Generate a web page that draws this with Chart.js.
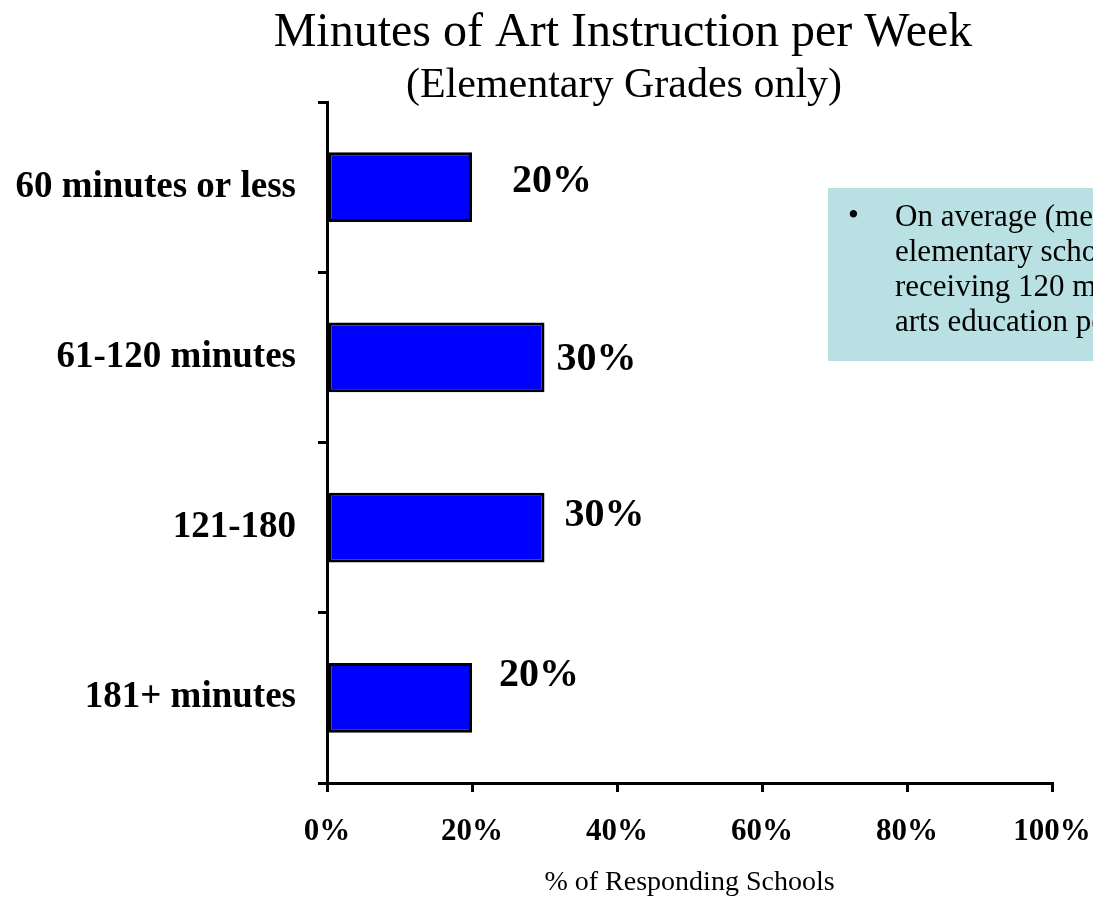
<!DOCTYPE html>
<html>
<head>
<meta charset="utf-8">
<script src="https://cdn.jsdelivr.net/npm/chart.js@4.4.0/dist/chart.umd.min.js"></script>
<style>
  html, body { margin: 0; padding: 0; background: #fff; }
  #wrap { width: 1093px; height: 899px; position: relative; }
</style>
</head>
<body>
<div id="wrap"><canvas id="chart" width="1093" height="899"></canvas></div>
<script>
// data
const categories = ['60 minutes or less', '61-120 minutes', '121-180', '181+ minutes'];
const shares = [20, 30, 30, 20];
const xTicks = [0, 20, 40, 60, 80, 100];
const noteLines = [
  'On average (median),',
  'elementary schools report',
  'receiving 120 minutes of',
  'arts education per week'
];

const serif = "'Liberation Serif', 'Times New Roman', serif";

// titles and the note box are drawn by hand so they can sit where the original has them
const extras = {
  id: 'extras',
  afterDraw(chart) {
    const ctx = chart.ctx;
    ctx.save();
    ctx.fillStyle = '#000';
    ctx.textAlign = 'center';
    ctx.textBaseline = 'middle';
    ctx.font = '48px ' + serif;
    ctx.fillText('Minutes of Art Instruction per Week', 623, 33);
    ctx.font = '42px ' + serif;
    ctx.fillText('(Elementary Grades only)', 624, 86);

    // note box, runs off the right edge like the original
    ctx.fillStyle = '#b9e0e3';
    ctx.fillRect(828, 188, 300, 173);
    ctx.fillStyle = '#000';
    ctx.textAlign = 'left';
    ctx.font = '31px ' + serif;
    ctx.fillText('\u2022', 848, 217);
    noteLines.forEach((t, i) => ctx.fillText(t, 895, 218 + i * 35));

    // value labels beside each bar
    const meta = chart.getDatasetMeta(0);
    const nudge = chart.options.plugins.extras.nudge;
    ctx.font = 'bold 40px ' + serif;
    meta.data.forEach((bar, i) => {
      const v = chart.data.datasets[0].data[i];
      ctx.fillText(v + '%', bar.x + nudge[i][0], bar.y + nudge[i][1]);
    });
    ctx.restore();
  }
};

new Chart(document.getElementById('chart'), {
  type: 'bar',
  data: {
    labels: categories,
    datasets: [{
      data: shares,
      backgroundColor: '#0000ff',
      borderColor: '#000',
      borderWidth: 3,
      borderSkipped: false,
      categoryPercentage: 1,
      barPercentage: 0.41
    }]
  },
  plugins: [extras],
  options: {
    indexAxis: 'y',
    responsive: false,
    animation: false,
    events: [],
    layout: { padding: { top: 102, right: 41, left: 0, bottom: 0 } },
    plugins: {
      legend: { display: false },
      title: { display: false },
      tooltip: { enabled: false },
      extras: { nudge: [[40, -5], [12, 2], [20, -12], [27, -22]] }
    },
    scales: {
      x: {
        min: 0,
        max: 100,
        afterBuildTicks(scale) { scale.ticks = xTicks.map(v => ({ value: v })); },
        afterFit(scale) {
          scale.height = 899 - 783;
          scale.paddingLeft = 0;
          scale.paddingRight = 0;
        },
        border: { display: true, color: '#000', width: 3 },
        grid: { display: true, drawOnChartArea: false, drawTicks: true, tickLength: 9, color: '#000', lineWidth: 3 },
        ticks: {
          color: '#000',
          padding: 21,
          maxRotation: 0,
          font: { family: serif, size: 31, weight: 'bold' },
          callback: v => v + '%'
        },
        title: {
          display: true,
          text: '% of Responding Schools',
          color: '#000',
          font: { family: serif, size: 28 },
          padding: { top: 16, bottom: 0 }
        }
      },
      y: {
        afterFit(scale) { scale.width = 327; },
        border: { display: true, color: '#000', width: 3 },
        grid: { display: true, offset: true, drawOnChartArea: false, drawTicks: true, tickLength: 9, color: '#000', lineWidth: 3 },
        ticks: {
          color: '#000',
          padding: 22,
          font: { family: serif, size: 37, weight: 'bold' }
        }
      }
    }
  }
});
</script>
</body>
</html>
